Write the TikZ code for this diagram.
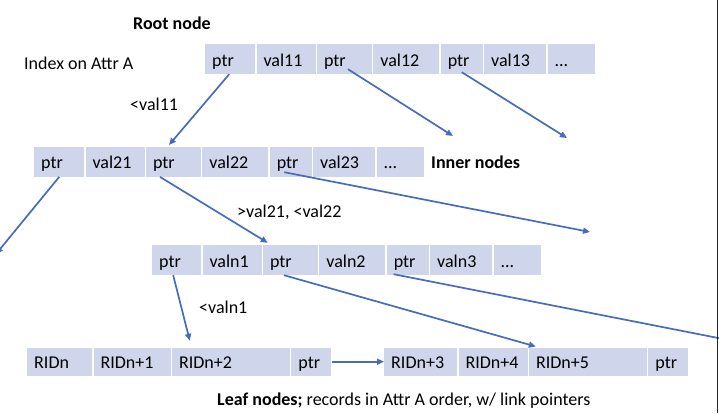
\documentclass[tikz,border=0pt]{standalone}
\usepackage{fontspec}
\setmainfont{Carlito}
\usepackage{xcolor}
\usepackage{tikz}
\usetikzlibrary{positioning,arrows.meta}
\definecolor{cellbg}{RGB}{207,213,234}
\definecolor{arrowc}{RGB}{72,108,188}
\newcommand{\diagfont}{\fontsize{18}{20}\selectfont}

\begin{document}
\begin{tikzpicture}[x=1pt, y=-1pt,
  cell/.style={fill=cellbg, anchor=west, align=left, font=\diagfont, minimum height=30pt, inner xsep=7pt, inner ysep=0pt, text height=14pt, text depth=0pt},
  leaf/.style={cell, minimum height=28pt},
  lab/.style={anchor=base west, inner sep=0pt, font=\diagfont},
  ar/.style={-{Triangle[length=7pt,width=6pt]}, line width=1.7pt, draw=arrowc}]
\useasboundingbox (0,0) rectangle (719,413);
\node[lab, font=\diagfont\bfseries] (rootlab) at (133,29) {Root node};
\node[lab] (idxlab) at (24,69) {Index on Attr A};
\node[cell, text width=36pt] (rp1) at (205,59) {ptr};
\node[cell, text width=45pt, right=1pt of rp1] (rv1) {val11};
\node[cell, text width=41pt, right=1pt of rv1] (rp2) {ptr};
\node[cell, text width=52pt, right=1pt of rp2] (rv2) {val12};
\node[cell, text width=28pt, right=1pt of rv2] (rp3) {ptr};
\node[cell, text width=48pt, right=1pt of rp3] (rv3) {val13};
\node[cell, text width=33pt, right=1pt of rv3] (rdots) {...};
\node[lab] (l1) at (130,110) {<val11};
\node[cell, text width=36pt] (ip1) at (34,161.7) {ptr};
\node[cell, text width=45pt, right=1pt of ip1] (iv1) {val21};
\node[cell, text width=41pt, right=1pt of iv1] (ip2) {ptr};
\node[cell, text width=52pt, right=1pt of ip2] (iv2) {val22};
\node[cell, text width=28pt, right=1pt of iv2] (ip3) {ptr};
\node[cell, text width=48pt, right=1pt of ip3] (iv3) {val23};
\node[cell, text width=33pt, right=1pt of iv3] (idots) {...};
\node[lab, font=\diagfont\bfseries] (innerlab) at (431,168.5) {Inner nodes};
\node[lab] (l2) at (237,217) {>val21, <val22};
\node[cell, text width=35pt] (lp1) at (152,260) {ptr};
\node[cell, text width=45pt, right=1pt of lp1] (lv1) {valn1};
\node[cell, text width=41pt, right=1pt of lv1] (lp2) {ptr};
\node[cell, text width=52pt, right=1pt of lp2] (lv2) {valn2};
\node[cell, text width=28pt, right=1pt of lv2] (lp3) {ptr};
\node[cell, text width=48pt, right=1pt of lp3] (lv3) {valn3};
\node[cell, text width=33pt, right=1pt of lv3] (ldots) {...};
\node[lab] (l3) at (199,313.5) {<valn1};
\node[leaf, text width=51pt] (leafA) at (27,361.7) {RIDn};
\node[leaf, text width=63pt, right=1pt of leafA] (leafB) {RIDn+1};
\node[leaf, text width=104pt, right=1pt of leafB] (leafC) {RIDn+2};
\node[leaf, text width=26pt, right=1pt of leafC] (leafD) {ptr};
\node[leaf, text width=59pt] (leafE) at (384,361.7) {RIDn+3};
\node[leaf, text width=55pt, right=1pt of leafE] (leafF) {RIDn+4};
\node[leaf, text width=104pt, right=1pt of leafF] (leafG) {RIDn+5};
\node[leaf, text width=26pt, right=1pt of leafG] (leafH) {ptr};
\node[lab] (leaflab) at (217,405) {\textbf{Leaf nodes;} records in Attr A order, w/ link pointers};
\coordinate (r2end) at (453,136);
\coordinate (r3end) at (567,138);
\coordinate (i1end) at (-4,254);
\coordinate (i3end) at (590,232);
\coordinate (l3end) at (735,341.3);
\draw[ar] ([xshift=-1pt]rp1.south) -- ([xshift=-4.5pt,yshift=1.5pt]ip2.north);
\draw[ar] ([xshift=3.5pt,yshift=5pt]rp2.south) -- (r2end);
\draw[ar] ([yshift=2pt]rp3.south) -- (r3end);
\draw[ar] (ip1.south) -- (i1end);
\draw[ar] ([xshift=-13.5pt]ip2.south) -- ([xshift=5pt,yshift=2pt]lp2.north west);
\draw[ar] ([xshift=-6.5pt,yshift=4.7pt]ip3.south) -- (i3end);
\draw[ar] ([xshift=-3.5pt]lp1.south) -- ([xshift=18pt,yshift=6.7pt]leafC.north west);
\draw[ar] ([xshift=-6.5pt]lp2.south) -- ([xshift=7pt,yshift=1pt]leafG.north west);
\draw[ar] ([xshift=7pt,yshift=1pt]lp3.south west) -- (l3end);
\draw[ar] (leafD.east) -- (leafE.west);
\draw[line width=1.2pt, black!85] (717.6,0) -- (717.6,413);
\end{tikzpicture}
\end{document}
